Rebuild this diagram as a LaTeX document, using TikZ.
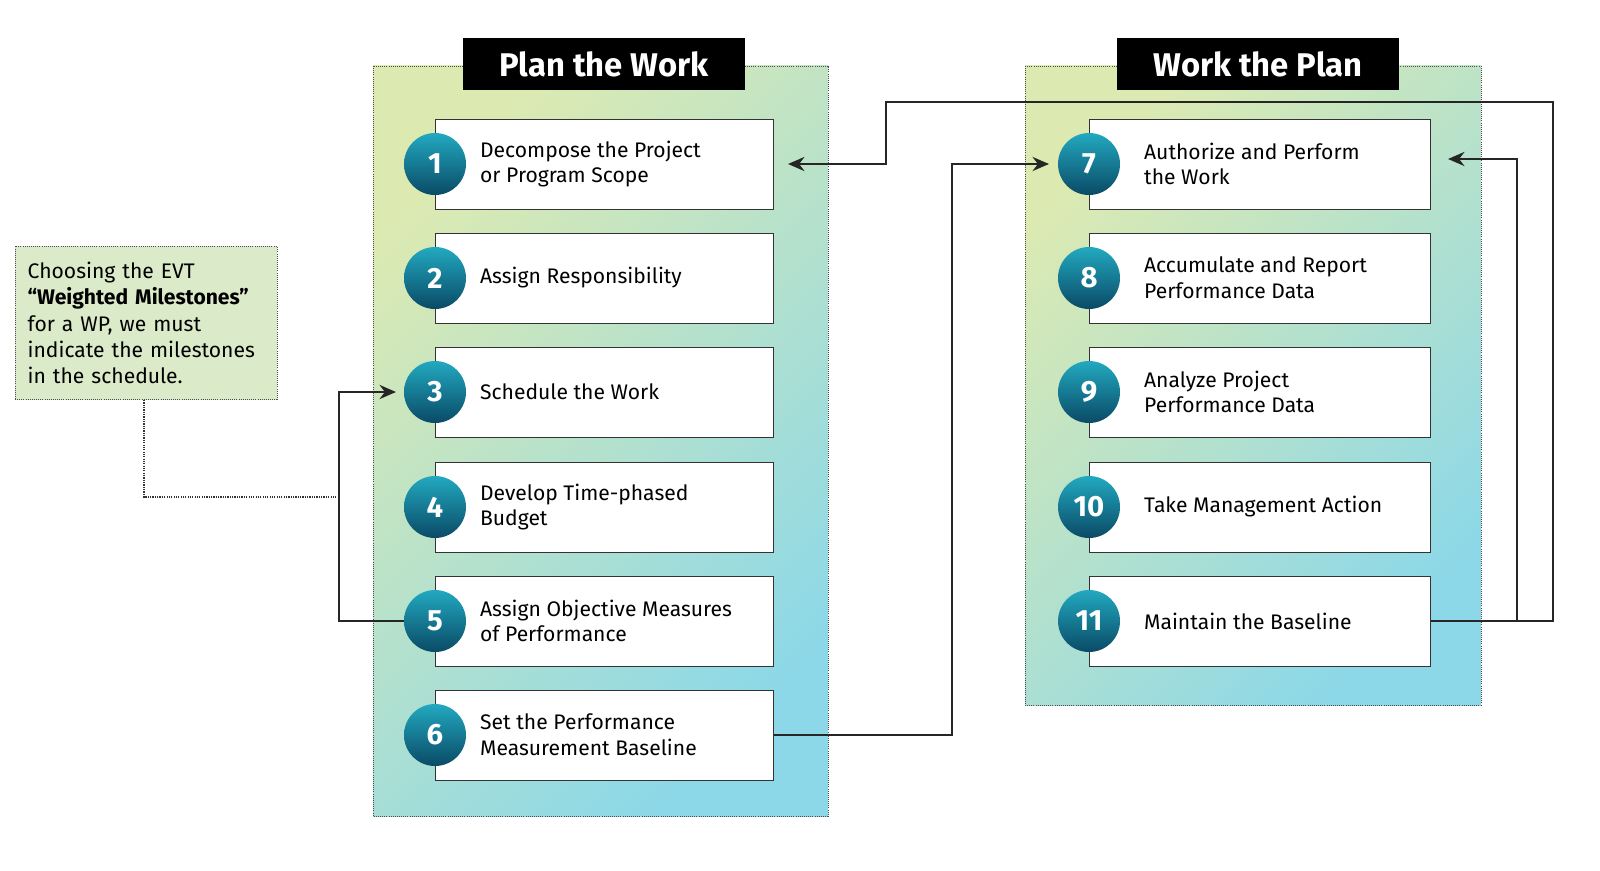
\documentclass[tikz,border=0pt]{standalone}
\usepackage{fontspec}
\setmainfont{Fira Sans}
\usetikzlibrary{arrows.meta,positioning,calc}
\definecolor{panelA}{HTML}{DCEAB2}
\definecolor{panelB}{HTML}{8CD8E8}
\definecolor{ballA}{HTML}{22A9C0}
\definecolor{ballB}{HTML}{0A4A66}
\definecolor{notefill}{HTML}{DBEAC9}
\tikzset{
  panel/.style={draw=black!70, densely dotted, line width=0.8pt, left color=panelA, right color=panelB, shading angle=45},
  titlebox/.style={fill=black, text=white, font=\fontsize{28}{30}\selectfont\bfseries, minimum width=8.46cm, minimum height=1.56cm},
  stepbox/.style={draw=black!80, line width=0.8pt, fill=white, minimum width=10.14cm, minimum height=2.7cm, anchor=west},
  numball/.style={circle, minimum size=1.86cm, inner sep=0pt, top color=ballA, bottom color=ballB, text=white, font=\fontsize{25}{27}\selectfont\bfseries},
  steptext/.style={anchor=west, align=left, font=\fontsize{18}{22}\selectfont},
  link/.style={draw=black!85, line width=2.2pt, -{Stealth[length=14pt,width=12pt]}},
}
\begin{document}
\begin{tikzpicture}[x=0.03cm, y=-0.03cm]
  % frame
  \useasboundingbox (0,0) rectangle (1600,870);

  % panels
  \draw[panel] (373,66) rectangle (828,816);
  \draw[panel] (1025,66) rectangle (1481,705);
  \node[titlebox] (plan) at (604,64) {Plan the Work};
  \node[titlebox] (work) at (1258,64) {Work the Plan};

  % left steps
  \foreach \n/\y/\txt in {1/164/{Decompose the Project\\or Program Scope},
      2/278/{Assign Responsibility},
      3/392/{Schedule the Work},
      4/507/{Develop Time-phased\\Budget},
      5/621/{Assign Objective Measures\\of Performance},
      6/735/{Set the Performance\\Measurement Baseline}} {
    \node[stepbox] (box\n) at (435,\y) {};
    \node[numball] (num\n) at (435,\y) {\n};
    \node[steptext] (txt\n) at (476,\y) {\txt};
  }

  % right steps
  \foreach \n/\y/\txt in {7/164/{Authorize and Perform\\the Work},
      8/278/{Accumulate and Report\\Performance Data},
      9/392/{Analyze Project\\Performance Data},
      10/507/{Take Management Action},
      11/621/{Maintain the Baseline}} {
    \node[stepbox, minimum width=10.23cm] (box\n) at (1089,\y) {};
    \node[numball] (num\n) at (1089,\y) {\n};
    \node[steptext] (txt\n) at (1140,\y) {\txt};
  }

  % note
  \node[draw=black!70, densely dotted, line width=0.8pt, fill=notefill, minimum width=7.86cm, minimum height=4.59cm,
        text width=7.1cm, align=left, font=\fontsize{18}{22.5}\selectfont] (note) at (146,323)
        {Choosing the EVT\\\textbf{“Weighted Milestones”}\\for a WP, we must\\indicate the milestones\\in the schedule.};
  \coordinate (noteend) at (338,497);
  \draw[black!80, densely dotted, line width=1pt] (144,400) |- (noteend);

  % connectors
  \draw[link] (num5.west) -- (339,621) |- (396,392);
  \draw[link] (box6.east) -- (952,735) |- (1049,164);
  \draw[link] (box11.east) -- (1553,621) |- (886,102) |- (788,164);
  \draw[link] (1517,621) |- (1448,159);
\end{tikzpicture}
\end{document}
